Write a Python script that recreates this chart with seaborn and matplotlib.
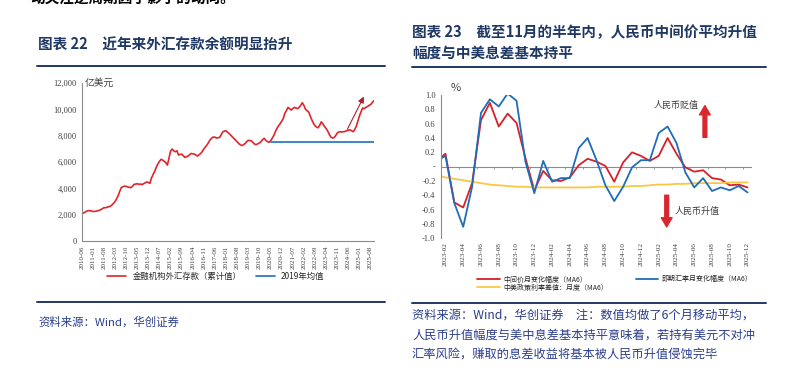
import numpy as np
import pandas as pd
import matplotlib
matplotlib.use('Agg')
import matplotlib.pyplot as plt
import seaborn as sns
from matplotlib.ticker import FuncFormatter

sns.set_style('white')
plt.rcParams['font.family'] = ['Noto Sans CJK SC', 'DejaVu Sans']
plt.rcParams['axes.unicode_minus'] = False

# ---- left chart data: FX deposits of financial institutions (100m USD) ----
fx_months = pd.period_range('2010-06', '2025-10', freq='M')
fx_deposit = [
    2050, 2120, 2180, 2260, 2300, 2310, 2280, 2240, 2250, 2260, 2290, 2330,
    2380, 2450, 2530, 2520, 2570, 2600, 2640, 2730, 2850, 3000, 3200, 3450,
    3780, 4070, 4120, 4170, 4150, 4100, 4080, 4050, 4150, 4300, 4320, 4350,
    4300, 4330, 4280, 4350, 4420, 4480, 4450, 4380, 4800, 5050, 5300, 5600,
    5850, 6050, 6200, 6150, 6050, 5950, 5770, 6300, 6830, 6980, 6850, 6780,
    6850, 6530, 6580, 6600, 6480, 6350, 6400, 6450, 6550, 6650, 6620, 6600,
    6520, 6450, 6550, 6650, 6800, 7000, 7150, 7300, 7500, 7700, 7820, 7900,
    7880, 7820, 7850, 7870, 8100, 8300, 8350, 8370, 8250, 8150, 8020, 7900,
    7780, 7650, 7520, 7400, 7300, 7250, 7320, 7400, 7550, 7650, 7620, 7600,
    7480, 7350, 7330, 7380, 7450, 7550, 7700, 7800, 7650, 7550, 7500, 7600,
    7800, 8000, 8300, 8550, 8750, 8900, 9100, 9300, 9700, 9900, 10150, 10050,
    9950, 10050, 10150, 10100, 10050, 10150, 10300, 10500, 10300, 10000, 9900, 9800,
    9500, 9200, 8950, 8750, 8650, 8600, 8800, 9050, 8900, 8700, 8550, 8350,
    8100, 7900, 7820, 7850, 8000, 8200, 8280, 8300, 8280, 8300, 8320, 8380,
    8400, 8450, 8380, 8300, 8450, 8700, 9100, 9500, 9800, 10100, 10050, 10150,
    10200, 10300, 10350, 10500, 10650,
]
avg_2019 = 7520
avg_start = '2020-05'

# ---- right chart data: monthly change (MA6, %) ----
rmb_months = pd.period_range('2023-01', '2025-12', freq='M')
mid_chg = [0.08, 0.18, -0.50, -0.57, -0.23, 0.65, 0.89, 0.56, 0.74, 0.61,
           0.12, -0.33, -0.06, -0.19, -0.20, -0.15, 0.02, 0.11, 0.07, 0.01,
           -0.21, 0.06, 0.20, 0.15, 0.08, 0.15, 0.40, 0.18, -0.01, -0.07,
           -0.05, -0.16, -0.18, -0.26, -0.25, -0.29]
spot_chg = [0.08, 0.15, -0.51, -0.84, -0.28, 0.75, 0.94, 0.84, 1.02, 0.92,
            0.07, -0.37, 0.08, -0.21, -0.16, -0.16, 0.26, 0.40, 0.09, -0.26,
            -0.48, -0.28, -0.01, 0.09, 0.09, 0.47, 0.56, 0.33, -0.08, -0.29,
            -0.16, -0.34, -0.29, -0.33, -0.27, -0.36]
rate_diff = [-0.12, -0.15, -0.17, -0.19, -0.21, -0.23, -0.25, -0.26, -0.27, -0.28,
             -0.28, -0.29, -0.29, -0.29, -0.29, -0.29, -0.29, -0.29, -0.28, -0.28,
             -0.28, -0.28, -0.27, -0.27, -0.26, -0.25, -0.25, -0.24, -0.24, -0.23,
             -0.23, -0.23, -0.23, -0.22, -0.22, -0.22]

W, H = 790, 386
NAVY = '#1F3864'
SRC = '#2B3F8C'
GRAY = '#8C8C8C'
SERIF = 'Liberation Serif'


def fx(x):
    return x / W


def fy(y):
    return 1 - y / H


fig = plt.figure(figsize=(W / 100, H / 100), dpi=100)

# clipped text from the previous page
fig.text(fx(30), fy(-1), '动关注逆周期因子影子的动向。', fontsize=10.5,
         fontweight='bold', color='black', va='center', ha='left')

# ================= left panel =================
fig.text(fx(38), fy(45), '图表 22\u3000近年来外汇存款余额明显抬升', fontsize=10.5,
         fontweight='bold', color=NAVY, va='center', ha='left')
for yy in (66, 302):
    fig.add_artist(plt.Line2D([fx(37), fx(385)], [fy(yy), fy(yy)],
                              transform=fig.transFigure, color=NAVY, lw=1.4))

ax1 = fig.add_axes([fx(81.7), fy(241), fx(292), (241 - 83) / H])
df1 = pd.DataFrame({'m': np.arange(len(fx_months)), 'v': fx_deposit})
sns.lineplot(data=df1, x='m', y='v', ax=ax1, color='#E0252B', lw=1.2,
             label='金融机构外汇存款（累计值）')
avg_idx = df1['m'][fx_months >= pd.Period(avg_start, 'M')]
sns.lineplot(x=avg_idx, y=[avg_2019] * len(avg_idx), ax=ax1, color='#2E7BC0',
             lw=1.3, label='2019年均值')
ax1.set_xlim(0, len(fx_months) - 1)
ax1.set_ylim(0, 12000)
ax1.set_yticks(range(0, 12001, 2000))
ax1.yaxis.set_major_formatter(FuncFormatter(lambda v, p: f'{int(v):,}'))
xt1 = np.arange(0, len(fx_months), 7)
ax1.set_xticks(xt1)
ax1.set_xticklabels([fx_months[i].strftime('%Y-%m') for i in xt1], rotation=90)
ax1.set_xlabel('')
ax1.set_ylabel('')
for s in ('top', 'right'):
    ax1.spines[s].set_visible(False)
for s in ('left', 'bottom'):
    ax1.spines[s].set_color(GRAY)
    ax1.spines[s].set_linewidth(0.8)
ax1.tick_params(axis='both', direction='out', length=2.5, width=0.6, color=GRAY,
                pad=1, labelcolor='#404040')
for lab in ax1.get_xticklabels():
    lab.set_fontfamily(SERIF)
    lab.set_fontsize(5)
for lab in ax1.get_yticklabels():
    lab.set_fontfamily(SERIF)
    lab.set_fontsize(6)
ax1.text(0.01, 1.0, '亿美元', transform=ax1.transAxes, fontsize=7,
         color='#404040', va='center', ha='left')
ax1.annotate('', xy=(178.6, 11160), xytext=(166.6, 8300),
             arrowprops=dict(arrowstyle='-|>', color='#B0202A', lw=0.8,
                             mutation_scale=9))
ax1.legend(loc='center', bbox_to_anchor=(fx(216), fy(276)),
           bbox_transform=fig.transFigure, ncol=2, frameon=False,
           fontsize=6, handlelength=2.3, handletextpad=0.7, columnspacing=1.8,
           borderpad=0)

fig.text(fx(38), fy(322), '资料来源：Wind，华创证券', fontsize=8.2,
         style='italic', color=SRC, va='center', ha='left')

# ================= right panel =================
fig.text(fx(412), fy(32), '图表 23\u3000截至11月的半年内，人民币中间价平均升值',
         fontsize=10.5, fontweight='bold', color=NAVY, va='center', ha='left')
fig.text(fx(412), fy(53), '幅度与中美息差基本持平', fontsize=10.5,
         fontweight='bold', color=NAVY, va='center', ha='left')
for yy in (67, 303):
    fig.add_artist(plt.Line2D([fx(412), fx(766)], [fy(yy), fy(yy)],
                              transform=fig.transFigure, color=NAVY, lw=1.4))

ax2 = fig.add_axes([fx(441), fy(238.3), fx(311), (238.3 - 95) / H])
k = np.arange(len(rmb_months))
sns.lineplot(x=k, y=mid_chg, ax=ax2, color='#D7202A', lw=1.3,
             label='中间价月变化幅度（MA6）')
sns.lineplot(x=k, y=rate_diff, ax=ax2, color='#F7C843', lw=1.3,
             label='中美政策利率差值：月度（MA6）')
sns.lineplot(x=k, y=spot_chg, ax=ax2, color='#1F6DB8', lw=1.3,
             label='即期汇率月变化幅度（MA6）')
ax2.set_xlim(0.5, len(rmb_months) - 0.5)
ax2.set_ylim(-1, 1)
ax2.set_yticks(np.round(np.arange(-1, 1.01, 0.2), 1))
ax2.yaxis.set_major_formatter(
    FuncFormatter(lambda v, p: '-' if abs(v) < 1e-9 else f'{v:.1f}'))
xt2 = np.arange(1, len(rmb_months), 2)
ax2.set_xticks(xt2)
ax2.set_xticklabels([rmb_months[i].strftime('%Y-%m') for i in xt2], rotation=90)
ax2.axhline(0, color=GRAY, lw=0.8, zorder=1)
ax2.vlines(xt2[:-1] + 1.5, -0.03, 0, color=GRAY, lw=0.6)
for s in ('top', 'right', 'bottom'):
    ax2.spines[s].set_visible(False)
ax2.spines['left'].set_color(GRAY)
ax2.spines['left'].set_linewidth(0.8)
ax2.tick_params(axis='y', direction='out', length=2.5, width=0.6, color=GRAY,
                pad=1.5, labelcolor='#404040')
ax2.tick_params(axis='x', length=0, pad=3, labelcolor='#404040')
for lab in ax2.get_xticklabels():
    lab.set_fontfamily(SERIF)
    lab.set_fontsize(5.2)
for lab in ax2.get_yticklabels():
    lab.set_fontfamily(SERIF)
    lab.set_fontsize(6)
ax2.text(0.03, 1.05, '%', transform=ax2.transAxes, fontsize=8,
         color='#404040', va='center', ha='left')

arrow_style = dict(arrowstyle='simple,head_length=0.6,head_width=0.7,tail_width=0.25',
                   fc='#D9272E', ec='#D9272E', mutation_scale=11)
ax2.annotate('', xy=(30.2, 0.89), xytext=(30.2, 0.37), arrowprops=arrow_style)
ax2.annotate('', xy=(25.9, -0.88), xytext=(25.9, -0.36), arrowprops=arrow_style)
ax2.text(24.4, 0.85, '人民币贬值', fontsize=6.5, color='#404040',
         va='center', ha='left')
ax2.text(26.8, -0.63, '人民币升值', fontsize=6.5, color='#404040',
         va='center', ha='left')

ax2.legend(loc='upper left', bbox_to_anchor=(fx(474), fy(272)),
           bbox_transform=fig.transFigure, ncol=2, frameon=False,
           fontsize=5, handlelength=3.2, handletextpad=0.5,
           columnspacing=4.0, labelspacing=0.05, borderpad=0)

src_lines = ['资料来源：Wind，华创证券\u3000注：数值均做了6个月移动平均，',
             '人民币升值幅度与美中息差基本持平意味着，若持有美元不对冲',
             '汇率风险，赚取的息差收益将基本被人民币升值侵蚀完毕']
for yy, t in zip((315, 335, 355), src_lines):
    fig.text(fx(412), fy(yy), t, fontsize=8.8, style='italic', color=SRC,
             va='center', ha='left')

fig.savefig('out.png', dpi=100)
